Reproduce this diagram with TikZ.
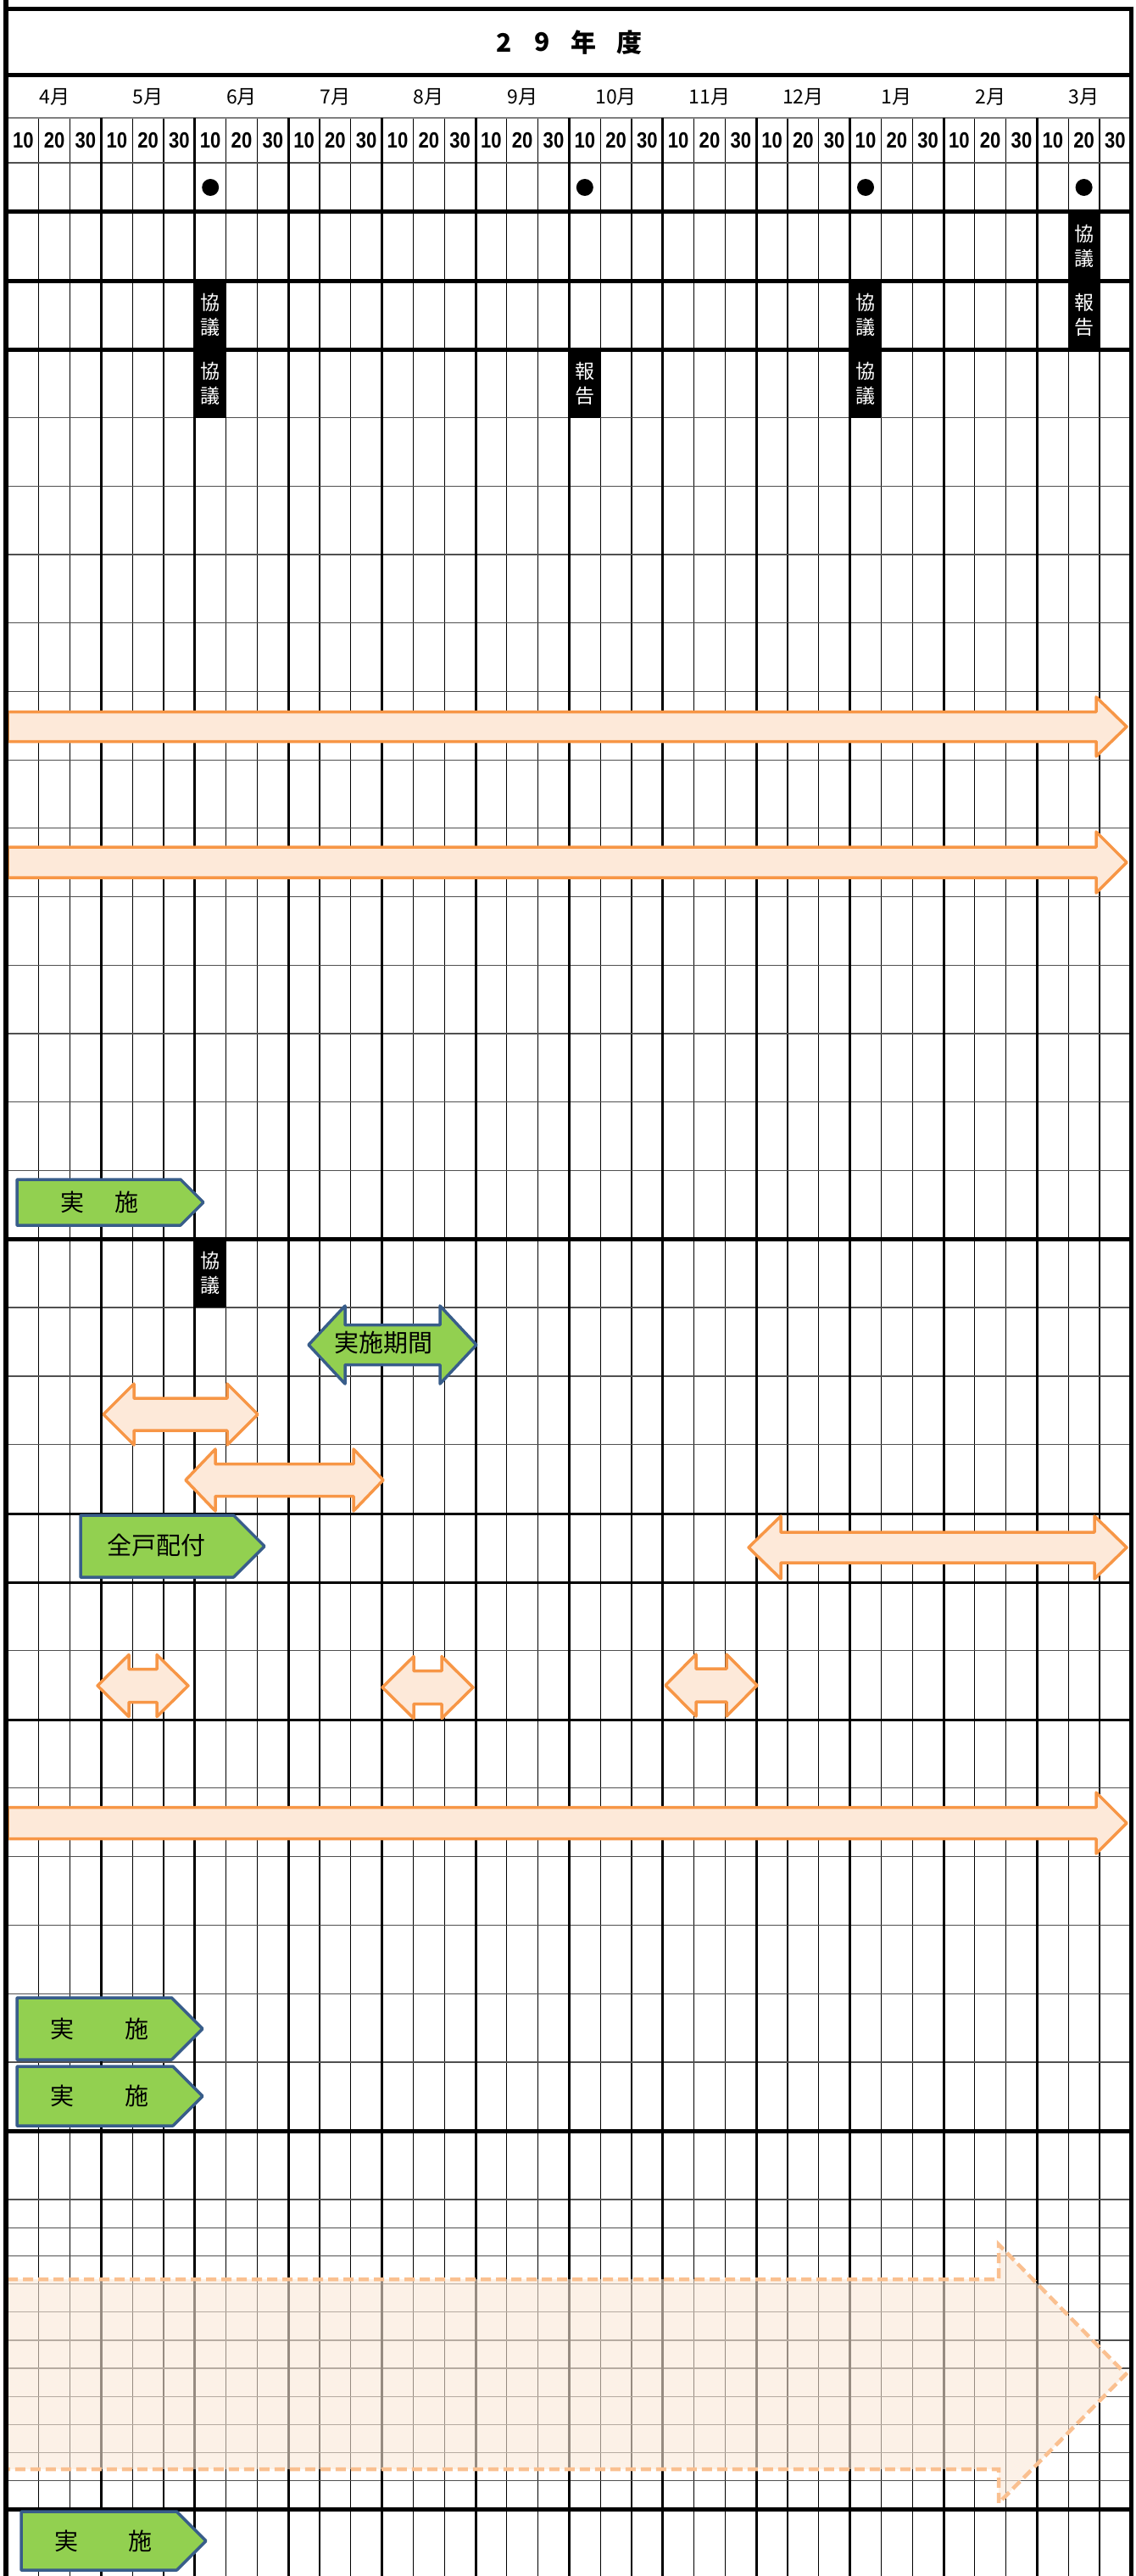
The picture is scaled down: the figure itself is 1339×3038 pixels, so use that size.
\documentclass[tikz,border=0pt]{standalone}
\usepackage{fontspec}
\setmainfont{Noto Sans CJK JP}
\newfontfamily\daysfont[FakeStretch=0.85]{Liberation Sans}
\usepackage{tikz}

\definecolor{grnfill}{RGB}{146,208,80}
\definecolor{bluedge}{RGB}{56,93,138}
\definecolor{orgedge}{RGB}{247,150,70}
\definecolor{orgfill}{RGB}{253,233,217}
\definecolor{dashedge}{RGB}{250,192,144}
\definecolor{dashfill}{RGB}{250,232,215}
\definecolor{thingray}{RGB}{80,80,80}

% block arrow with two heads: style, left tip, right tip, centre y, half shaft, half head, head length
\newcommand{\dblarrow}[7]{%
  \draw[#1] (#2,#4) -- ++(#7,-#6) -- ++(0,{#6-#5}) -- ({#3-#7},{#4-#5})
    -- ++(0,{#5-#6}) -- (#3,#4) -- ({#3-#7},{#4+#6}) -- ++(0,{#5-#6})
    -- ({#2+#7},{#4+#5}) -- ++(0,{#6-#5}) -- cycle;}
% block arrow to the right: style, left end, tip, centre y, half shaft, half head, head length
\newcommand{\rarrow}[7]{%
  \draw[#1] (#2,{#4-#5}) -- ({#3-#7},{#4-#5}) -- ++(0,{#5-#6}) -- (#3,#4)
    -- ({#3-#7},{#4+#6}) -- ++(0,{#5-#6}) -- (#2,{#4+#5}) -- cycle;}
% pentagon: style, left, tip, centre y, half height
\newcommand{\pentbox}[5]{%
  \draw[#1] (#2,{#4-#5}) -- ({#3-#5},{#4-#5}) -- (#3,#4) -- ({#3-#5},{#4+#5})
    -- (#2,{#4+#5}) -- cycle;}

\begin{document}
\begin{tikzpicture}[x=1pt, y=-1pt,
    thick rule/.style={line width=5pt},
    month rule/.style={line width=3pt},
    thin rule/.style={line width=1.3pt},
    gray rule/.style={line width=1.3pt, thingray},
    orgarrow/.style={draw=orgedge, fill=orgfill, line width=3.5pt, line join=round},
    grnarrow/.style={draw=bluedge, fill=grnfill, line width=3.5pt, line join=round},
    memo/.style={fill=black, text=white, minimum width=36.8pt, minimum height=81pt,
      inner sep=0pt, align=center, font=\fontsize{23}{29}\selectfont},
    tagtext/.style={inner sep=0pt, font=\fontsize{28}{30}\selectfont},
    title text/.style={inner sep=0pt, font=\bfseries\fontsize{30}{30}\selectfont},
    month text/.style={inner sep=0pt, font=\fontsize{23}{23}\selectfont},
    day text/.style={inner sep=0pt, font=\daysfont\bfseries\fontsize{26}{26}\selectfont}]
  \fill[white] (0,0) rectangle (1339,3038);
  \useasboundingbox (0,0) rectangle (1339,3038);

  % grid
  \foreach \c in {1,...,35}
    \draw[thin rule] ({9+36.8*\c},139) -- ({9+36.8*\c},3038);
  \foreach \k in {1,...,12}
    \draw[gray rule] (7,{412+80.69*\k}) -- (1334,{412+80.69*\k});
  \foreach \k in {1,...,12}
    \draw[gray rule] (7,{1461+80.92*\k}) -- (1334,{1461+80.92*\k});
  \foreach \k in {0,...,10}
    \draw[gray rule] (7,{2594+33.18*\k}) -- (1334,{2594+33.18*\k});
  \draw[gray rule, gray] (7,139) -- (1334,139);
  \draw[gray rule] (7,192) -- (1334,192);
  \foreach \y in {1785,1866,2028}
    \draw[month rule] (7,\y) -- (1334,\y);
  \foreach \m in {1,...,11}
    \draw[month rule] ({9+110.4*\m},139) -- ({9+110.4*\m},3038);
  \foreach \y in {10,88,249,331,412,1461,2513,2959}
    \draw[thick rule] (4,\y) -- (1336.5,\y);

  % header
  \foreach \x/\ch [count=\i] in {595/2,640/9,688/年,742/度}
    \node[title text] (title\i) at (\x,50) {\ch};
  \foreach \mo [count=\i from 0] in {4,5,6,7,8,9,10,11,12,1,2,3}
    \node[month text] (month\i) at ({64.2+110.4*\i},114) {\mo 月};
  \foreach \c in {0,...,35}{
    \pgfmathtruncatemacro\d{10*(mod(\c,3)+1)}
    \node[day text] (day\c) at ({27.4+36.8*\c},166) {\d};
  }
  \foreach \c in {6,18,27,34}
    \fill ({27.4+36.8*\c},221) circle[radius=10pt];

  % meetings
  \node[memo] (memo1) at (1278.6,290) {協\\議};
  \node[memo] (memo2) at (248.2,371.5) {協\\議};
  \node[memo] (memo3) at (1021,371.5) {協\\議};
  \node[memo] (memo4) at (1278.6,371.5) {報\\告};
  \node[memo] (memo5) at (248.2,452.5) {協\\議};
  \node[memo] (memo6) at (689.8,452.5) {報\\告};
  \node[memo] (memo7) at (1021,452.5) {協\\議};
  \node[memo] (memo8) at (248.2,1501.5) {協\\議};

  % section 1
  \rarrow{orgarrow}{9}{1329}{857}{17.5}{35}{36}
  \rarrow{orgarrow}{9}{1329}{1017}{18}{36}{36}
  \pentbox{grnarrow}{20}{240}{1418}{27}
  \node[tagtext] (jisshi1) at (117.5,1418) {実\hspace{37pt}施};

  % section 2
  \dblarrow{grnarrow}{364}{562}{1586}{23.5}{46}{43}
  \node[tagtext, font=\fontsize{29}{30}\selectfont] (kikan) at (452,1584) {実施期間};
  \dblarrow{orgarrow}{122}{304}{1668}{19}{36}{36}
  \dblarrow{orgarrow}{219}{452}{1745.5}{19}{36.5}{35}
  \pentbox{grnarrow}{95}{312}{1823.5}{36.5}
  \node[tagtext, font=\fontsize{29}{30}\selectfont] (haifu) at (184,1822) {全戸配付};
  \dblarrow{orgarrow}{883}{1329}{1825}{18}{37}{38}
  \dblarrow{orgarrow}{115}{222}{1988}{19.5}{36.5}{37}
  \dblarrow{orgarrow}{451}{558}{1990}{19.5}{36.5}{37}
  \dblarrow{orgarrow}{785}{893}{1987.5}{19.5}{36.5}{36}
  \rarrow{orgarrow}{9}{1329}{2150}{18.5}{36}{36}
  \pentbox{grnarrow}{20}{239}{2392.5}{36.5}
  \node[tagtext] (jisshi2) at (117.5,2392.5) {実\hspace{61pt}施};
  \pentbox{grnarrow}{20}{239}{2472}{35}
  \node[tagtext] (jisshi3) at (117.5,2472) {実\hspace{61pt}施};

  % section 3
  \fill[dashfill, fill opacity=0.6] (9,2688) -- (1178,2688) -- (1178,2647) -- (1328,2800)
    -- (1178,2952) -- (1178,2912) -- (9,2912) -- cycle;
  \draw[dashedge, line width=4.5pt, dash pattern=on 12pt off 6pt] (9,2688) -- (1178,2688)
    -- (1178,2647) -- (1328,2800) -- (1178,2952) -- (1178,2912) -- (9,2912);

  % section 4
  \pentbox{grnarrow}{25}{243}{2996.5}{34.5}
  \node[tagtext] (jisshi4) at (122,2996.5) {実\hspace{60pt}施};

  % frame
  \draw[line width=6pt] (7,0) -- (7,3038);
  \draw[thick rule] (1334,7.5) -- (1334,3038);
\end{tikzpicture}
\end{document}
